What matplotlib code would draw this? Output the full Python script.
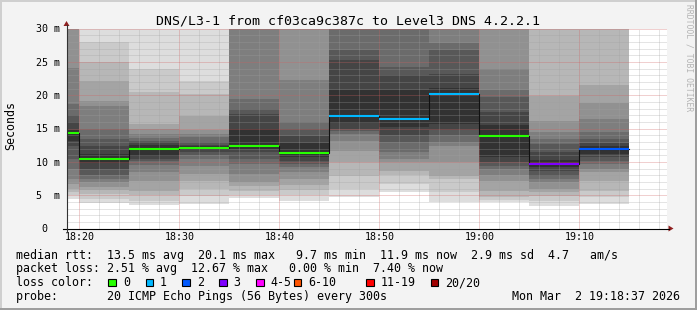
import numpy as np
import matplotlib.pyplot as plt
from matplotlib.patches import Rectangle, Polygon
from matplotlib.ticker import MultipleLocator

# --- data (one entry per 5 min round) ---
slot_start = ['18:15', '18:20', '18:25', '18:30', '18:35', '18:40',
              '18:45', '18:50', '18:55', '19:00', '19:05', '19:10']
median = [14.3, 10.5, 12.0, 12.15, 12.35, 11.3, 16.85, 16.4, 20.1, 13.85, 9.65, 11.9]
loss = [0, 0, 0, 0, 0, 0, 1, 1, 1, 0, 3, 2]

# smoke pairs (ms), outermost pair first
smoke_lo = [
    [4.5, 5.0, 5.5, 6.0, 6.7, 7.5, 9.0, 10.5, 12.4, 13.2],
    [3.9, 4.5, 5.2, 5.8, 6.2, 7.0, 7.5, 8.0, 9.0, 9.9],
    [3.6, 4.2, 5.0, 5.7, 7.2, 8.5, 9.5, 10.2, 10.45, 10.95],
    [3.7, 4.95, 5.95, 7.2, 8.2, 9.45, 10.45, 11.0, 11.45, 11.8],
    [4.6, 5.0, 5.7, 6.45, 6.95, 8.2, 9.7, 10.45, 11.45, 12.0],
    [4.1, 5.0, 5.8, 6.6, 7.45, 8.45, 9.2, 9.7, 10.2, 10.7],
    [4.7, 5.95, 7.95, 9.95, 11.7, 13.2, 14.25, 14.7, 15.0, 15.8],
    [5.45, 6.7, 8.0, 8.7, 9.95, 10.45, 11.5, 12.95, 14.0, 15.2],
    [3.95, 5.45, 7.45, 7.95, 10.0, 12.45, 12.95, 14.0, 14.8, 15.7],
    [3.95, 4.3, 4.7, 5.7, 7.2, 8.0, 8.95, 9.45, 9.95, 10.7],
    [3.45, 4.2, 4.95, 5.5, 6.0, 6.95, 7.5, 7.95, 8.7, 9.2],
    [3.7, 4.7, 5.7, 7.2, 8.45, 9.0, 9.7, 10.2, 10.7, 11.2],
]
smoke_hi = [
    [45, 40, 35, 32, 31, 24.05, 18.6, 17.0, 15.9, 14.8],
    [31, 27.95, 24.95, 22.05, 19.05, 18.35, 15.0, 13.5, 12.45, 11.2],
    [30.5, 23.85, 20.45, 15.7, 14.95, 14.2, 13.55, 13.2, 12.9, 12.5],
    [30.5, 22.2, 20.2, 16.95, 14.7, 14.2, 13.7, 12.95, 12.6, 12.4],
    [50, 45, 40, 36, 33, 31, 19.45, 17.95, 17.2, 15.0],
    [45, 40, 36, 33, 31, 22.2, 16.0, 14.85, 13.9, 12.8],
    [50, 46, 42, 38, 35, 32, 31, 26.8, 25.2, 20.7],
    [50, 45, 40, 36, 33, 31, 30.5, 24.2, 23.0, 20.7],
    [50, 45, 40, 36, 33, 31, 27.8, 26.8, 23.2, 21.0],
    [45, 40, 36, 33, 31, 23.95, 20.7, 19.7, 17.45, 15.5],
    [40, 35, 31, 19.9, 16.2, 14.5, 13.5, 12.7, 11.5, 10.3],
    [40, 35, 31, 21.55, 18.85, 16.35, 14.45, 13.45, 12.8, 12.3],
]

x_ticks = ['18:20', '18:30', '18:40', '18:50', '19:00', '19:10']
y_ticks = [0, 5, 10, 15, 20, 25, 30]
y_labels = [' 0', '5  m', '10 m', '15 m', '20 m', '25 m', '30 m']
view_start, view_end = '18:18:46', '19:18:46'

loss_names = ['0', '1', '2', '3', '4-5', '6-10', '11-19', '20/20']
loss_colors = ['#26ff00', '#00b8ff', '#0059ff', '#7e00ff',
               '#ff00ff', '#ff5500', '#ff0000', '#a10000']

title = 'DNS/L3-1 from cf03ca9c387c to Level3 DNS 4.2.2.1'
rtt_txt = 'median rtt:  13.5 ms avg  20.1 ms max   9.7 ms min  11.9 ms now  2.9 ms sd  4.7   am/s'
loss_txt = 'packet loss: 2.51 % avg  12.67 % max   0.00 % min  7.40 % now'
probe_txt = 'probe:       20 ICMP Echo Pings (56 Bytes) every 300s'
stamp_txt = 'Mon Mar  2 19:18:37 2026'


def to_min(s):
    p = [float(v) for v in s.split(':')]
    return p[0] * 60 + p[1] + (p[2] / 60 if len(p) > 2 else 0)


MONO = 'DejaVu Sans Mono'
W, H = 697, 310
fig = plt.figure(figsize=(W / 100, H / 100), dpi=100, facecolor='#f3f3f3')
ax = fig.add_axes([67 / W, 1 - 228.5 / H, 600 / W, 200 / H])
ax.set_facecolor('white')
ax.set_xlim(to_min(view_start), to_min(view_end))
ax.set_ylim(0, 30)
for s in ax.spines.values():
    s.set_visible(False)

# smoke
starts = [to_min(s) for s in slot_start]
n_pairs = len(smoke_lo[0])
for i in range(n_pairs):
    g = (50 + 190 // n_pairs * (n_pairs - 1 - i)) / 255
    lo = np.array([c[i] for c in smoke_lo])
    hi = np.array([c[i] for c in smoke_hi])
    ax.bar(starts, hi - lo, bottom=lo, width=5, align='edge',
           color=(g, g, g), linewidth=0, zorder=1)

# median line
xs = starts + [starts[-1] + 5]
ys = median + [median[-1]]
ax.plot(xs, ys, drawstyle='steps-post', color='#111111', lw=0.8, zorder=4)
for s, m, l in zip(starts, median, loss):
    ax.hlines(m, s, s + 5, color=loss_colors[l], lw=1.5, zorder=5)

# grid + ticks
ax.set_xticks([to_min(t) for t in x_ticks], x_ticks)
ax.set_yticks(y_ticks, y_labels)
ax.xaxis.set_minor_locator(MultipleLocator(2))
ax.yaxis.set_minor_locator(MultipleLocator(1))
ax.set_axisbelow(False)
ax.grid(which='major', color='#d06060', alpha=0.6, linestyle=(0, (1, 1)), lw=0.72)
ax.grid(which='minor', color='#a0a0a0', alpha=0.55, linestyle=(0, (1, 1)), lw=0.72)
ax.tick_params(which='both', length=0)
ax.tick_params(axis='x', pad=2.5, labelsize=7.2)
ax.tick_params(axis='y', pad=22.3, labelsize=7.2)
for lab in ax.get_xticklabels() + ax.get_yticklabels():
    lab.set_family(MONO)
for lab in ax.get_yticklabels():
    lab.set_ha('left')

# overlay in pixel coordinates for the rrdtool decoration
ov = fig.add_axes([0, 0, 1, 1], zorder=5)
ov.set_xlim(0, W)
ov.set_ylim(H, 0)
ov.axis('off')
ov.patch.set_visible(False)

ov.add_patch(Rectangle((0, 0), W, 2, color='#cfcfcf', lw=0))
ov.add_patch(Rectangle((0, 0), 2, H, color='#cfcfcf', lw=0))
ov.add_patch(Rectangle((0, H - 2), W, 2, color='#9e9e9e', lw=0))
ov.add_patch(Rectangle((W - 2, 0), 2, H, color='#9e9e9e', lw=0))

ov.plot([63, 669], [228.5, 228.5], color='black', lw=0.8)
ov.plot([66.5, 66.5], [231.5, 25], color='#333333', lw=0.8)
ov.add_patch(Polygon([(668.5, 225.5), (673.5, 228.5), (668.5, 231.5)], color='#902020', lw=0))
ov.add_patch(Polygon([(63.5, 26), (66.5, 21.0), (69.5, 26)], color='#902020', lw=0))

ov.text(348.5, 24, title, ha='center', va='baseline', fontsize=9.5, family=MONO)
ov.text(11, 126, 'Seconds', rotation=90, ha='center', va='center', fontsize=8.4, family=MONO)
ov.text(688.5, 4, 'RRDTOOL / TOBI OETIKER', rotation=270, ha='center', va='top',
        fontsize=5.8, family=MONO, color='#b4b4b4')

rows = [258.5, 272.2, 286.0, 299.7]
cw = 7.0
fs = 8.35
ov.text(16, rows[0], rtt_txt, va='baseline', fontsize=fs, family=MONO)
ov.text(16, rows[1], loss_txt, va='baseline', fontsize=fs, family=MONO)
ov.text(16, rows[2], 'loss color:', va='baseline', fontsize=fs, family=MONO)
box_cols = [13.2, 18.5, 23.75, 29.0, 34.3, 39.65, 50.0, 59.25]
for c, name, col in zip(box_cols, loss_names, loss_colors):
    bx = 16 + c * cw
    ov.add_patch(Rectangle((bx, 278.5), 7.5, 7.5, facecolor=col, edgecolor='black', lw=0.8))
    ov.text(bx + 14.5, rows[2], name, va='baseline', fontsize=fs, family=MONO)
ov.text(16, rows[3], probe_txt, va='baseline', fontsize=fs, family=MONO)
ov.text(680, rows[3], stamp_txt, ha='right', va='baseline', fontsize=fs, family=MONO)

fig.savefig('out.png', dpi=100, facecolor=fig.get_facecolor())
